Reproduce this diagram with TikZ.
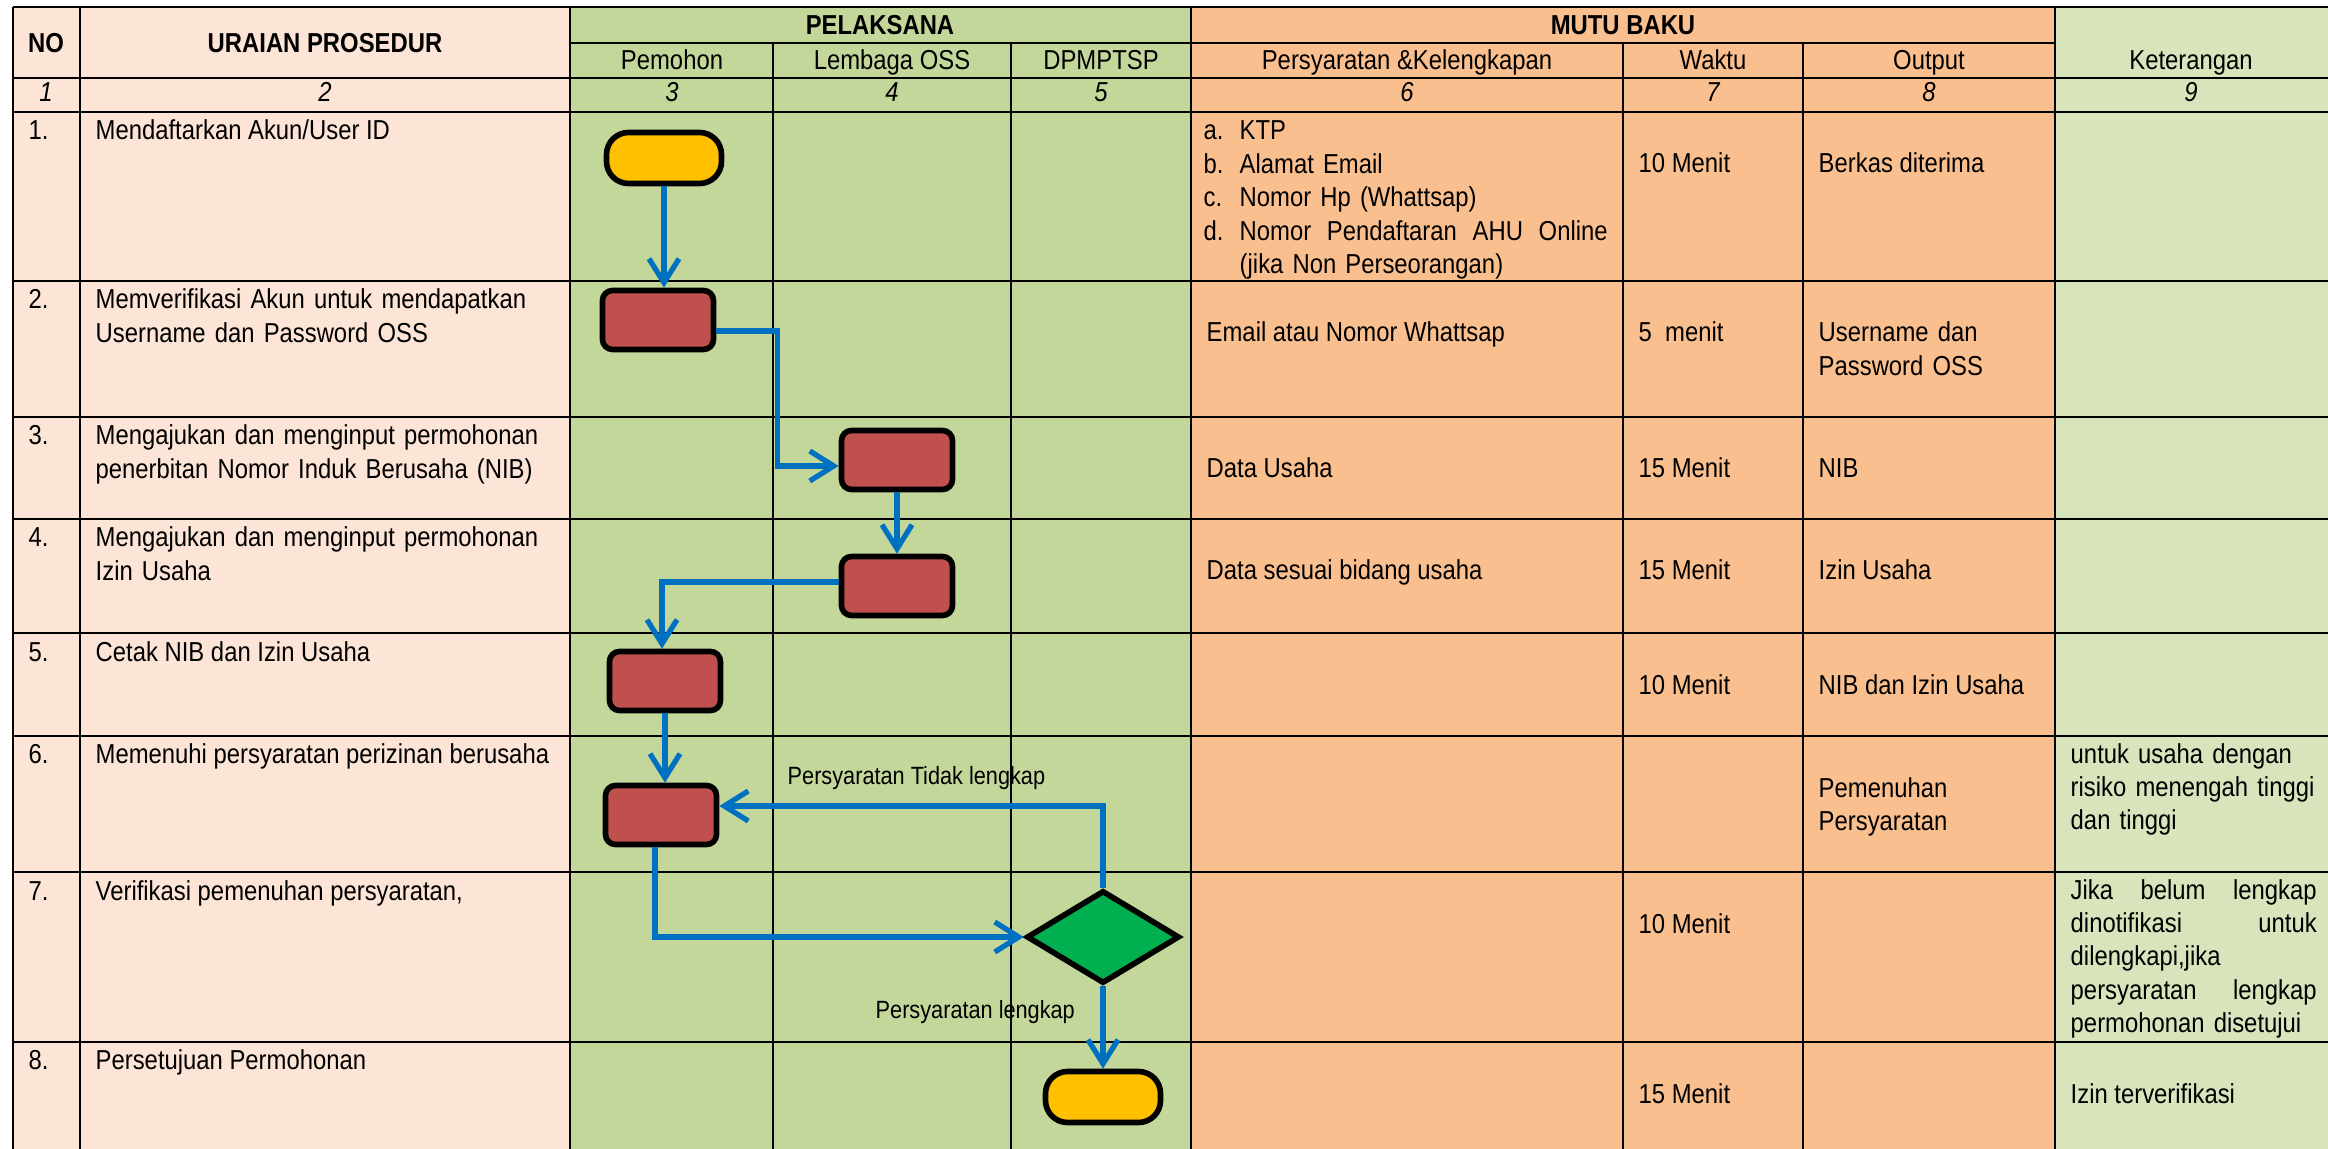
\documentclass[tikz,border=0pt]{standalone}
\usepackage{fontspec}
\setmainfont{Liberation Sans}[FakeStretch=0.87]
\usetikzlibrary{shapes.geometric,arrows.meta}
\definecolor{uraianbg}{RGB}{252,228,214}
\definecolor{pelaksanabg}{RGB}{196,215,155}
\definecolor{mutubg}{RGB}{250,191,143}
\definecolor{ketbg}{RGB}{216,228,188}
\definecolor{termyellow}{RGB}{255,192,0}
\definecolor{procred}{RGB}{192,80,77}
\definecolor{decgreen}{RGB}{0,176,80}
\definecolor{flowblue}{RGB}{0,112,192}
\newcommand{\cellfont}{\fontsize{7.8}{9.5}\selectfont}
\newcommand{\lblfont}{\fontsize{7.1}{8.5}\selectfont}

\begin{document}
\begin{tikzpicture}[x=0.1mm,y=-0.1mm]

%
% Styles
%
\tikzstyle{cell} = [inner sep=0pt,anchor=base west,font=\cellfont]
\tikzstyle{head} = [inner sep=0pt,anchor=base,font=\cellfont\bfseries]
\tikzstyle{sub} = [inner sep=0pt,anchor=base,font=\cellfont]
\tikzstyle{num} = [inner sep=0pt,anchor=base,font=\cellfont\itshape]
\tikzstyle{lbl} = [inner sep=0pt,anchor=base west,font=\lblfont]
\tikzstyle{grid} = [line width=0.75pt,black]
\tikzstyle{terminal} = [rectangle,rounded corners=2.2mm,draw=black,line width=1.6pt,fill=termyellow,minimum width=1.15cm,minimum height=0.51cm]
\tikzstyle{process} = [rectangle,rounded corners=1mm,draw=black,line width=1.6pt,fill=procred,minimum width=1.11cm,minimum height=0.59cm]
\tikzstyle{decision} = [diamond,draw=black,line width=1.6pt,fill=decgreen,minimum width=1.53cm,minimum height=0.93cm,inner sep=0pt]
\tikzstyle{flow} = [draw=flowblue,line width=1.5pt,-{Straight Barb[length=2.4mm,width=3mm]}]

\useasboundingbox (0,0) rectangle (2328,1149);
\fill[white] (0,0) rectangle (2328,1149);

% column fills
\fill[uraianbg] (13,7) rectangle (570,1149);
\fill[pelaksanabg] (570,7) rectangle (1191,1149);
\fill[mutubg] (1191,7) rectangle (2055,1149);
\fill[ketbg] (2055,7) rectangle (2328,1149);

% header
\node[head] (hNo) at (46,53) {NO};
\node[head] (hUraian) at (325,53) {URAIAN PROSEDUR};
\node[head] (hPel) at (880,35) {PELAKSANA};
\node[head] (hMutu) at (1623,35) {MUTU BAKU};
\node[sub] (hPemohon) at (672,70) {Pemohon};
\node[sub] (hOSS) at (892,70) {Lembaga OSS};
\node[sub] (hDPM) at (1101,70) {DPMPTSP};
\node[sub] (hPersy) at (1407,70) {Persyaratan \&Kelengkapan};
\node[sub] (hWaktu) at (1713,70) {Waktu};
\node[sub] (hOutput) at (1929,70) {Output};
\node[sub] (hKet) at (2191,70) {Keterangan};

\node[num] (c1) at (46,102) {1};
\node[num] (c2) at (325,102) {2};
\node[num] (c3) at (672,102) {3};
\node[num] (c4) at (892,102) {4};
\node[num] (c5) at (1101,102) {5};
\node[num] (c6) at (1407,102) {6};
\node[num] (c7) at (1713,102) {7};
\node[num] (c8) at (1929,102) {8};
\node[num] (c9) at (2191,102) {9};

% no + uraian prosedur
\node[cell] (n1) at (28,140) {1.};
\node[cell] (n2) at (28,309) {2.};
\node[cell] (n3) at (28,445) {3.};
\node[cell] (n4) at (28,547) {4.};
\node[cell] (n5) at (28,662) {5.};
\node[cell] (n6) at (28,763) {6.};
\node[cell] (n7) at (28,900) {7.};
\node[cell] (n8) at (28,1069) {8.};

\node[cell] (u1) at (95,140) {Mendaftarkan Akun/User ID};
\node[cell,text width=4.7cm,align=left] (u2) at (95,309) {Memverifikasi Akun untuk mendapatkan\\Username dan Password OSS};
\node[cell,text width=4.7cm,align=left] (u3) at (95,445) {Mengajukan dan menginput permohonan\\penerbitan Nomor Induk Berusaha (NIB)};
\node[cell,text width=4.7cm,align=left] (u4) at (95,547) {Mengajukan dan menginput permohonan\\Izin Usaha};
\node[cell] (u5) at (95,662) {Cetak NIB dan Izin Usaha};
\node[cell] (u6) at (95,763) {Memenuhi persyaratan perizinan berusaha};
\node[cell] (u7) at (95,900) {Verifikasi pemenuhan persyaratan,};
\node[cell] (u8) at (95,1069) {Persetujuan Permohonan};

% mutu baku
\node[cell,text width=4.04cm,align=left] (p1) at (1203,140) {\makebox[3.6mm][l]{a.}KTP\\ \makebox[3.6mm][l]{b.}Alamat Email\\ \makebox[3.6mm][l]{c.}Nomor Hp (Whattsap)\\ \makebox[3.6mm][l]{d.}Nomor\hfill Pendaftaran\hfill AHU\hfill Online\\ \hspace*{3.6mm}(jika Non Perseorangan)};
\node[cell] (p2) at (1206,342) {Email atau Nomor Whattsap};
\node[cell] (p3) at (1206,478) {Data Usaha};
\node[cell] (p4) at (1206,580) {Data sesuai bidang usaha};

\node[cell] (w1) at (1638,173) {10 Menit};
\node[cell] (w2) at (1638,342) {5\ \ menit};
\node[cell] (w3) at (1638,478) {15 Menit};
\node[cell] (w4) at (1638,580) {15 Menit};
\node[cell] (w5) at (1638,695) {10 Menit};
\node[cell] (w7) at (1638,933) {10 Menit};
\node[cell] (w8) at (1638,1103) {15 Menit};

\node[cell] (o1) at (1818,173) {Berkas diterima};
\node[cell,text width=2.2cm,align=left] (o2) at (1818,342) {Username dan\\Password OSS};
\node[cell] (o3) at (1818,478) {NIB};
\node[cell] (o4) at (1818,580) {Izin Usaha};
\node[cell] (o5) at (1818,695) {NIB dan Izin Usaha};
\node[cell,text width=2.2cm,align=left] (o6) at (1818,797) {Pemenuhan\\Persyaratan};

% keterangan
\node[cell,text width=2.46cm,align=left] (k6) at (2070,763) {untuk usaha dengan\\risiko menengah tinggi\\dan tinggi};
\node[cell,text width=2.46cm,align=left] (k7) at (2070,899) {Jika\hfill belum\hfill lengkap\\ dinotifikasi\hfill untuk\\ dilengkapi,jika\\ persyaratan\hfill lengkap\\ permohonan disetujui};
\node[cell] (k8) at (2070,1103) {Izin terverifikasi};

% flow labels
\node[lbl] (tidak) at (787,785) {Persyaratan Tidak lengkap};
\node[lbl] (lengkap) at (875,1018) {Persyaratan lengkap};

% grid
\draw[grid] (13,7) -- (2328,7);
\draw[grid] (570,43) -- (2055,43);
\foreach \y in {78,112,281,417,519,633,736,872,1042}
  \draw[grid] (13,\y) -- (2328,\y);
\foreach \x in {13,80,570,1191,2055}
  \draw[grid] (\x,7) -- (\x,1149);
\foreach \x in {773,1011,1623,1803}
  \draw[grid] (\x,43) -- (\x,1149);

% flow
\node[terminal] (mulai) at (664,158) {};
\node[process] (verif) at (658,320) {};
\node[process] (ajuNIB) at (897,460) {};
\node[process] (ajuIzin) at (897,586) {};
\node[process] (cetak) at (665,681) {};
\node[process] (penuhi) at (661,815) {};
\node[decision] (cek) at (1103,937) {};
\node[terminal] (selesai) at (1103,1097) {};

\draw[flow] (mulai.south) -- (mulai.south |- verif.north);
\draw[flow] ([yshift=-1.1mm]verif.east) -- ++(61,0) |- ([yshift=-0.6mm]ajuNIB.west);
\draw[flow] (ajuNIB) -- (ajuIzin);
\draw[flow] ([yshift=0.4mm]ajuIzin.west) -| ([xshift=-0.3mm]cetak.north);
\draw[flow] (cetak.south) -- (cetak.south |- penuhi.north);
\draw[flow] ([xshift=-0.6mm]penuhi.south) |- (cek.west);
\draw[flow] (cek.north) |- ([yshift=0.9mm]penuhi.east);
\draw[flow] (cek) -- (selesai);

\end{tikzpicture}
\end{document}
